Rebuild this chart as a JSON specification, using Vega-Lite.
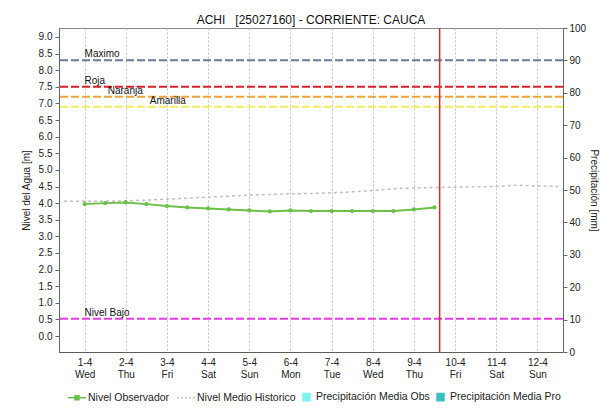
{
  "$schema": "https://vega.github.io/schema/vega-lite/v6.json",
  "width": 504,
  "height": 324,
  "autosize": "none",
  "padding": {"left": 59, "top": 28, "right": 40, "bottom": 59},
  "background": "white",
  "config": {
    "font": "Liberation Sans",
    "view": {"stroke": "#888888", "strokeWidth": 1},
    "axis": {
      "labelFont": "Liberation Sans", "labelFontSize": 10, "labelColor": "#222222",
      "titleFont": "Liberation Sans", "titleFontSize": 10, "titleFontWeight": "normal", "titleColor": "#222222",
      "domainColor": "#666666", "tickColor": "#666666", "tickSize": 4,
      "gridColor": "#c4c4c4", "gridDash": [2, 2], "gridWidth": 1, "labelOverlap": false
    }
  },
  "title": {
    "text": "ACHI\u00a0\u00a0\u00a0[25027160] - CORRIENTE: CAUCA",
    "fontSize": 12, "fontWeight": "normal", "font": "Liberation Sans", "color": "#111111", "offset": -4
  },
  "datasets": {
    "obs": [
      {"fecha": "2026-04-01T00:00:00Z", "nivel": 3.97},
      {"fecha": "2026-04-01T12:00:00Z", "nivel": 4.00},
      {"fecha": "2026-04-02T00:00:00Z", "nivel": 4.02},
      {"fecha": "2026-04-02T12:00:00Z", "nivel": 3.97},
      {"fecha": "2026-04-03T00:00:00Z", "nivel": 3.91},
      {"fecha": "2026-04-03T12:00:00Z", "nivel": 3.87},
      {"fecha": "2026-04-04T00:00:00Z", "nivel": 3.84},
      {"fecha": "2026-04-04T12:00:00Z", "nivel": 3.81},
      {"fecha": "2026-04-05T00:00:00Z", "nivel": 3.78},
      {"fecha": "2026-04-05T12:00:00Z", "nivel": 3.75},
      {"fecha": "2026-04-06T00:00:00Z", "nivel": 3.78},
      {"fecha": "2026-04-06T12:00:00Z", "nivel": 3.76},
      {"fecha": "2026-04-07T00:00:00Z", "nivel": 3.76},
      {"fecha": "2026-04-07T12:00:00Z", "nivel": 3.76},
      {"fecha": "2026-04-08T00:00:00Z", "nivel": 3.76},
      {"fecha": "2026-04-08T12:00:00Z", "nivel": 3.76},
      {"fecha": "2026-04-09T00:00:00Z", "nivel": 3.81},
      {"fecha": "2026-04-09T12:00:00Z", "nivel": 3.87}
    ],
    "hist": [
      {"fecha": "2026-03-31T12:00:00Z", "nivel": 4.06},
      {"fecha": "2026-04-01T00:00:00Z", "nivel": 4.06},
      {"fecha": "2026-04-01T12:00:00Z", "nivel": 4.06},
      {"fecha": "2026-04-02T00:00:00Z", "nivel": 4.07},
      {"fecha": "2026-04-02T12:00:00Z", "nivel": 4.09},
      {"fecha": "2026-04-03T00:00:00Z", "nivel": 4.12},
      {"fecha": "2026-04-03T12:00:00Z", "nivel": 4.15},
      {"fecha": "2026-04-04T00:00:00Z", "nivel": 4.18},
      {"fecha": "2026-04-04T12:00:00Z", "nivel": 4.21},
      {"fecha": "2026-04-05T00:00:00Z", "nivel": 4.24},
      {"fecha": "2026-04-05T12:00:00Z", "nivel": 4.26},
      {"fecha": "2026-04-06T00:00:00Z", "nivel": 4.28},
      {"fecha": "2026-04-06T12:00:00Z", "nivel": 4.29},
      {"fecha": "2026-04-07T00:00:00Z", "nivel": 4.31},
      {"fecha": "2026-04-07T12:00:00Z", "nivel": 4.34},
      {"fecha": "2026-04-08T00:00:00Z", "nivel": 4.38},
      {"fecha": "2026-04-08T12:00:00Z", "nivel": 4.43},
      {"fecha": "2026-04-09T00:00:00Z", "nivel": 4.46},
      {"fecha": "2026-04-09T12:00:00Z", "nivel": 4.47},
      {"fecha": "2026-04-10T00:00:00Z", "nivel": 4.48},
      {"fecha": "2026-04-10T12:00:00Z", "nivel": 4.49},
      {"fecha": "2026-04-11T00:00:00Z", "nivel": 4.50},
      {"fecha": "2026-04-11T12:00:00Z", "nivel": 4.54},
      {"fecha": "2026-04-12T00:00:00Z", "nivel": 4.52},
      {"fecha": "2026-04-12T12:00:00Z", "nivel": 4.50}
    ],
    "umbrales": [
      {"nivel": "Maximo", "valor": 8.3, "fecha": "2026-04-01T00:00:00Z"},
      {"nivel": "Roja", "valor": 7.5, "fecha": "2026-04-01T00:00:00Z"},
      {"nivel": "Naranja", "valor": 7.2, "fecha": "2026-04-01T13:30:00Z"},
      {"nivel": "Amarilla", "valor": 6.9, "fecha": "2026-04-02T14:00:00Z"},
      {"nivel": "Nivel Bajo", "valor": 0.52, "fecha": "2026-04-01T00:00:00Z"}
    ],
    "precip": [
      {"fecha": "2026-04-01T00:00:00Z", "mm": 0},
      {"fecha": "2026-04-02T00:00:00Z", "mm": 0},
      {"fecha": "2026-04-03T00:00:00Z", "mm": 0},
      {"fecha": "2026-04-04T00:00:00Z", "mm": 0},
      {"fecha": "2026-04-05T00:00:00Z", "mm": 0},
      {"fecha": "2026-04-06T00:00:00Z", "mm": 0},
      {"fecha": "2026-04-07T00:00:00Z", "mm": 0},
      {"fecha": "2026-04-08T00:00:00Z", "mm": 0},
      {"fecha": "2026-04-09T00:00:00Z", "mm": 0}
    ],
    "ahora": [
      {"fecha": "2026-04-09T15:00:00Z"}
    ]
  },
  "layer": [
    {
      "data": {"name": "precip"},
      "mark": {"type": "bar", "size": 8, "opacity": 0},
      "encoding": {
        "x": {
          "field": "fecha", "type": "temporal",
          "scale": {"type": "utc", "domain": [
            {"year": 2026, "month": "mar", "date": 31, "hours": 12, "utc": true},
            {"year": 2026, "month": "apr", "date": 12, "hours": 12, "utc": true}
          ]},
          "axis": {
            "title": null,
            "tickCount": {"interval": "day", "step": 1},
            "values": [
              {"year": 2026, "month": "apr", "date": 1, "utc": true},
              {"year": 2026, "month": "apr", "date": 2, "utc": true},
              {"year": 2026, "month": "apr", "date": 3, "utc": true},
              {"year": 2026, "month": "apr", "date": 4, "utc": true},
              {"year": 2026, "month": "apr", "date": 5, "utc": true},
              {"year": 2026, "month": "apr", "date": 6, "utc": true},
              {"year": 2026, "month": "apr", "date": 7, "utc": true},
              {"year": 2026, "month": "apr", "date": 8, "utc": true},
              {"year": 2026, "month": "apr", "date": 9, "utc": true},
              {"year": 2026, "month": "apr", "date": 10, "utc": true},
              {"year": 2026, "month": "apr", "date": 11, "utc": true},
              {"year": 2026, "month": "apr", "date": 12, "utc": true}
            ],
            "labelExpr": "[utcFormat(datum.value, '%-d-%-m'), utcFormat(datum.value, '%a')]",
            "labelLineHeight": 12, "labelPadding": 5, "labelFlush": false, "labelOverlap": false,
            "ticks": false, "domainDash": [1, 1], "domainColor": "#333333"
          }
        },
        "y": {
          "field": "mm", "type": "quantitative",
          "scale": {"domain": [0, 100], "nice": false},
          "axis": {"orient": "right", "title": "Precipitación [mm]", "values": [0, 10, 20, 30, 40, 50, 60, 70, 80, 90, 100], "grid": false, "labelPadding": 2, "titlePadding": 3}
        },
        "color": {"datum": "Precipitación Media Obs"}
      }
    },
    {
      "data": {"name": "umbrales"},
      "mark": {"type": "rule", "strokeWidth": 2, "strokeDash": [8, 3]},
      "encoding": {
        "y": {
          "field": "valor", "type": "quantitative",
          "scale": {"domain": [-0.48, 9.27], "nice": false, "zero": false},
          "axis": {"orient": "left", "title": "Nivel del Agua [m]", "values": [0, 0.5, 1, 1.5, 2, 2.5, 3, 3.5, 4, 4.5, 5, 5.5, 6, 6.5, 7, 7.5, 8, 8.5, 9], "tickCount": 20, "format": ".1f", "labelPadding": 3, "titlePadding": 7, "labelOverlap": false}
        },
        "stroke": {
          "field": "nivel", "type": "nominal", "legend": null,
          "scale": {"domain": ["Maximo", "Roja", "Naranja", "Amarilla", "Nivel Bajo"], "range": ["#6c7b98", "#d8202c", "#f0a23c", "#f2ee5a", "#e23ee2"]}
        }
      }
    },
    {
      "data": {"name": "umbrales"},
      "mark": {"type": "text", "align": "left", "baseline": "bottom", "dy": -1, "fontSize": 10, "font": "Liberation Sans", "color": "#111111"},
      "encoding": {
        "x": {"field": "fecha", "type": "temporal"},
        "y": {"field": "valor", "type": "quantitative", "scale": {"domain": [-0.48, 9.27], "nice": false, "zero": false}, "axis": null},
        "text": {"field": "nivel"}
      }
    },
    {
      "data": {"name": "hist"},
      "mark": {"type": "line", "strokeWidth": 1.5, "strokeDash": [3, 3]},
      "encoding": {
        "x": {"field": "fecha", "type": "temporal"},
        "y": {"field": "nivel", "type": "quantitative", "scale": {"domain": [-0.48, 9.27], "nice": false, "zero": false}, "axis": null},
        "color": {"datum": "Nivel Medio Historico"}
      }
    },
    {
      "data": {"name": "obs"},
      "mark": {"type": "line", "strokeWidth": 2, "point": {"filled": true, "size": 18, "color": "#4a9a2c"}},
      "encoding": {
        "x": {"field": "fecha", "type": "temporal"},
        "y": {"field": "nivel", "type": "quantitative", "scale": {"domain": [-0.48, 9.27], "nice": false, "zero": false}, "axis": null},
        "color": {
          "datum": "Nivel Observador",
          "scale": {
            "domain": ["Nivel Observador", "Nivel Medio Historico", "Precipitación Media Obs", "Precipitación Media Pro"],
            "range": ["#6cc04a", "#c0c0c0", "#7ff2f2", "#3ec0c0"]
          },
          "legend": {
            "title": null, "orient": "none", "legendX": 8, "legendY": 359, "direction": "horizontal", "columns": 4,
            "labelFont": "Liberation Sans", "labelFontSize": 10.5, "labelColor": "#222222",
            "symbolSize": 324, "columnPadding": 4, "labelOffset": 1,
            "encode": {
              "symbols": {
                "update": {
                  "shape": {"signal": "datum.value == 'Nivel Observador' ? 'M-1,0H1M-0.22,-0.22H0.22V0.22H-0.22Z' : datum.value == 'Nivel Medio Historico' ? 'M-1,0H1' : 'M-1,-0.4H-0.22V0.4H-1Z'"},
                  "fill": {"signal": "datum.value == 'Nivel Observador' ? '#4a9a2c' : datum.value == 'Nivel Medio Historico' ? 'transparent' : datum.value == 'Precipitación Media Obs' ? '#7ff2f2' : '#3ec0c0'"},
                  "stroke": {"signal": "datum.value == 'Nivel Observador' ? '#6cc04a' : datum.value == 'Nivel Medio Historico' ? '#b0b0b0' : 'transparent'"},
                  "strokeDash": {"signal": "datum.value == 'Nivel Medio Historico' ? [2, 2] : []"},
                  "strokeWidth": {"value": 1.5},
                  "opacity": {"value": 1}
                }
              },
              "labels": {
                "update": {
                  "dx": {"signal": "indexof(datum.value, 'Precip') == 0 ? -7 : 0"}
                }
              }
            }
          }
        }
      }
    },
    {
      "data": {"name": "ahora"},
      "mark": {"type": "rule", "color": "#d42a2a", "strokeWidth": 1.5},
      "encoding": {
        "x": {"field": "fecha", "type": "temporal"}
      }
    }
  ],
  "resolve": {"scale": {"y": "independent"}}
}
